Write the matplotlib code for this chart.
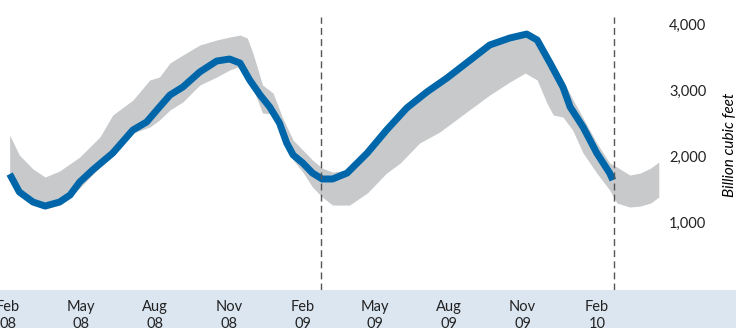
import matplotlib as mpl
import matplotlib.pyplot as plt
import pandas as pd
from matplotlib.patches import Rectangle

mpl.rcParams['font.family'] = ['Lato', 'DejaVu Sans']
mpl.rcParams['font.size'] = 10

#==============================================================================
# Working gas in storage, weekly (billion cubic feet)
stor_dates = ['2008-02-03', '2008-02-15', '2008-03-03', '2008-03-18', '2008-04-05',
              '2008-04-18', '2008-04-30', '2008-05-16', '2008-06-10', '2008-07-05',
              '2008-07-22', '2008-08-07', '2008-08-20', '2008-09-05', '2008-09-26',
              '2008-10-17', '2008-11-02', '2008-11-15', '2008-11-27', '2008-12-10',
              '2008-12-22', '2009-01-03', '2009-01-12', '2009-01-20', '2009-02-01',
              '2009-02-13', '2009-02-25', '2009-03-10', '2009-03-28', '2009-04-22',
              '2009-05-16', '2009-06-10', '2009-07-05', '2009-07-30', '2009-08-28',
              '2009-09-21', '2009-10-16', '2009-11-06', '2009-11-19', '2009-12-05',
              '2009-12-21', '2009-12-30', '2010-01-15', '2010-02-01', '2010-02-17',
              '2010-02-21']
stor_bcf = [1727, 1455, 1303, 1242, 1303, 1409, 1606, 1788, 2045, 2394,
            2515, 2742, 2924, 3045, 3273, 3439, 3470, 3409, 3152, 2924,
            2742, 2500, 2197, 2015, 1894, 1742, 1652, 1652, 1742, 2045,
            2394, 2727, 2970, 3182, 3455, 3682, 3788, 3848, 3758, 3409,
            3045, 2742, 2439, 2045, 1742, 1636]

# Five-year max/min range
rng_dates = ['2008-02-03', '2008-02-15', '2008-03-03', '2008-03-18', '2008-04-05',
             '2008-04-30', '2008-05-25', '2008-06-10', '2008-07-05', '2008-07-26',
             '2008-08-07', '2008-08-20', '2008-09-05', '2008-09-26', '2008-10-17',
             '2008-11-02', '2008-11-15', '2008-11-24', '2008-12-01', '2008-12-13',
             '2008-12-26', '2009-01-07', '2009-01-20', '2009-02-01', '2009-02-13',
             '2009-02-25', '2009-03-10', '2009-03-31', '2009-04-22', '2009-05-16',
             '2009-06-02', '2009-06-26', '2009-07-21', '2009-08-15', '2009-09-21',
             '2009-10-16', '2009-11-04', '2009-11-19', '2009-12-01', '2009-12-09',
             '2009-12-21', '2010-01-02', '2010-01-15', '2010-02-01', '2010-02-17',
             '2010-02-26', '2010-03-14', '2010-03-27', '2010-04-09', '2010-04-19']
rng_high = [2318, 2015, 1803, 1682, 1773, 1985, 2288, 2621, 2848, 3152,
            3197, 3409, 3530, 3682, 3758, 3803, 3833, 3788, 3561, 3076,
            2955, 2576, 2242, 2091, 1939, 1818, 1757, 1788, 2061, 2409,
            2621, 2894, 3106, 3318, 3667, 3773, 3833, 3758, 3576, 3424,
            3152, 2864, 2576, 2197, 1894, 1833, 1712, 1742, 1818, 1909]
rng_low = [1682, 1409, 1257, 1197, 1257, 1515, 1833, 2000, 2348, 2439,
           2545, 2697, 2818, 3076, 3197, 3303, 3363, 3182, 3030, 2651,
           2636, 2348, 1939, 1757, 1530, 1379, 1257, 1257, 1439, 1742,
           1894, 2197, 2364, 2591, 2924, 3121, 3257, 3152, 2803, 2621,
           2591, 2394, 2045, 1742, 1485, 1288, 1227, 1242, 1288, 1379]

# Same week, one year apart
mark_dates = ['2009-02-24', '2010-02-23']

tick_dates = ['2008-02-01', '2008-05-01', '2008-08-01', '2008-11-01', '2009-02-01',
              '2009-05-01', '2009-08-01', '2009-11-01', '2010-02-01']
tick_labels = ['Feb\n08', 'May\n08', 'Aug\n08', 'Nov\n08', 'Feb\n09',
               'May\n09', 'Aug\n09', 'Nov\n09', 'Feb\n10']
y_ticks = [1000, 2000, 3000, 4000]
#==============================================================================

fig = plt.figure(figsize=(7.36, 3.28), dpi=100)
fig.patches.append(Rectangle((0, 0), 1, 38/328., transform=fig.transFigure,
                             facecolor='#dce6f1', edgecolor='none', zorder=-1))

ax = fig.add_axes([0, 38/328., 662/736., 290/328.])
ax.patch.set_visible(False)

ax.fill_between(pd.to_datetime(rng_dates), rng_low, rng_high,
                color='#c8c9cb', lw=0, zorder=1)
ax.plot(pd.to_datetime(stor_dates), stor_bcf, color='#0066aa', lw=5,
        solid_capstyle='butt', solid_joinstyle='round', zorder=2)
for d in mark_dates:
    ax.axvline(pd.Timestamp(d), ymax=0.94, color='#555555', lw=1,
               ls=(0, (5, 3)), zorder=3)

ax.set_xlim(pd.Timestamp('2008-01-22'), pd.Timestamp('2010-04-23'))
ax.set_ylim(-30, 4364)
ax.set_xticks(pd.to_datetime(tick_dates))
ax.set_xticklabels(tick_labels, linespacing=1.3)
ax.set_yticks(y_ticks)
ax.set_yticklabels(['{:,}'.format(v) for v in y_ticks])
ax.yaxis.tick_right()
ax.yaxis.set_label_position('right')
ax.set_ylabel('Billion cubic feet', style='italic', fontsize=11, labelpad=12)
ax.tick_params(axis='x', length=0, pad=7, labelsize=10.5, colors='#222222')
ax.tick_params(axis='y', length=0, pad=5, labelsize=10.5, colors='#222222')
for s in ax.spines.values():
    s.set_visible(False)

fig.savefig('out.png', dpi=100)
